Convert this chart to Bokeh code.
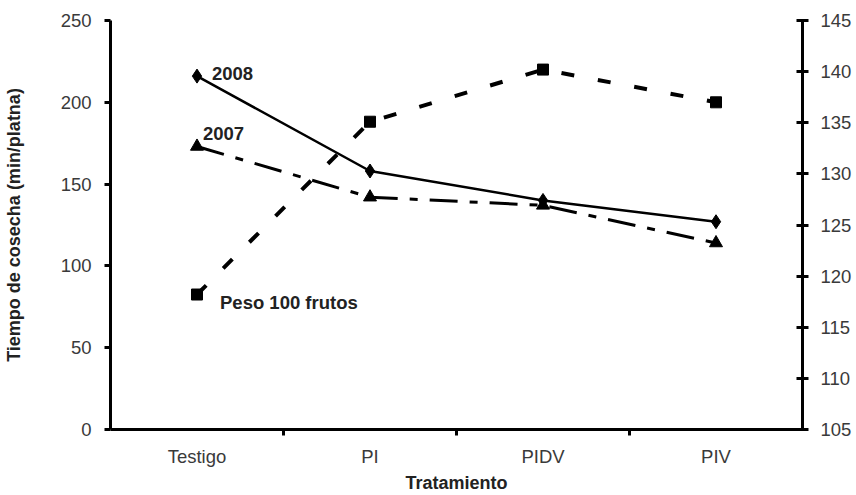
from bokeh.plotting import figure
from bokeh.models import Range1d, LinearAxis, FixedTicker, Label
from bokeh.embed import file_html
from bokeh.resources import INLINE

categories = ["Testigo", "PI", "PIDV", "PIV"]
tiempo_2008 = [216, 158, 140, 127]
tiempo_2007 = [173, 142, 137, 114]
peso_100 = [118.2, 135.1, 140.2, 137.0]
left_ticks = [0, 50, 100, 150, 200, 250]
right_ticks = [105, 110, 115, 120, 125, 130, 135, 140, 145]

x = [i + 0.5 for i in range(len(categories))]
FONT = "Liberation Sans"

p = figure(width=856, height=495, output_backend="svg", toolbar_location=None,
           x_range=Range1d(0, len(categories)), y_range=Range1d(0, 250),
           min_border_left=110, min_border_right=54, min_border_top=20, min_border_bottom=62)
p.outline_line_color = None
p.xgrid.visible = False
p.ygrid.visible = False
p.background_fill_color = "white"
p.border_fill_color = "white"

p.extra_y_ranges = {"right": Range1d(105, 145)}
ax_r = LinearAxis(y_range_name="right", ticker=FixedTicker(ticks=right_ticks))
p.add_layout(ax_r, "right")

for ax in [p.yaxis[0], p.xaxis[0], ax_r]:
    ax.axis_line_width = 3
    ax.axis_line_color = "black"
    ax.major_tick_line_width = 3
    ax.major_tick_line_color = "black"
    ax.minor_tick_line_width = 3
    ax.major_label_text_font = FONT
    ax.major_label_text_font_size = "18.5px"
    ax.major_label_text_color = "#3a3a3a"
    ax.axis_label_text_font = FONT
    ax.axis_label_text_font_style = "bold"
    ax.axis_label_text_font_size = "18px"
    ax.axis_label_text_color = "#222222"

yl = p.yaxis[0]
yl.ticker = FixedTicker(ticks=left_ticks)
yl.major_tick_out = 6
yl.major_tick_in = 0
yl.minor_tick_out = 0
yl.minor_tick_in = 0
yl.major_label_standoff = 13
yl.axis_label = "Tiempo de cosecha (min/platna)"
yl.axis_label_standoff = 34

ax_r.major_tick_out = 6
ax_r.major_tick_in = 6
ax_r.minor_tick_out = 0
ax_r.minor_tick_in = 0
ax_r.major_label_standoff = 12

xa = p.xaxis[0]
xa.ticker = FixedTicker(ticks=x, minor_ticks=[1, 2, 3])
xa.major_label_overrides = {xv: c for xv, c in zip(x, categories)}
xa.major_tick_out = 0
xa.major_tick_in = 0
xa.minor_tick_out = 6
xa.minor_tick_in = 0
xa.major_label_standoff = 10
xa.axis_label = "Tratamiento"
xa.axis_label_standoff = 3

# 2008
p.line(x, tiempo_2008, line_color="black", line_width=2.5)
p.scatter(x, tiempo_2008, marker="diamond", size=14, color="black")
# 2007
p.line(x, tiempo_2007, line_color="black", line_width=3, line_dash="28 12 8 12")
p.scatter(x, tiempo_2007, marker="triangle", size=13, color="black")
# Peso 100 frutos
p.line(x, peso_100, line_color="black", line_width=4, line_dash="13 24", y_range_name="right")
p.scatter(x, peso_100, marker="square", size=11, color="black", y_range_name="right")

for txt, xv, yv, rng, dx, dy in [("2008", x[0], tiempo_2008[0], "default", 15, 3),
                                 ("2007", x[0], tiempo_2007[0], "default", 6, 13),
                                 ("Peso 100 frutos", x[0], peso_100[0], "right", 23, -8)]:
    p.add_layout(Label(x=xv, y=yv, y_range_name=rng, text=txt, x_offset=dx, y_offset=dy,
                       text_font=FONT, text_font_style="bold", text_font_size="18.5px",
                       text_color="#222222", text_baseline="middle"))

open("out.html", "w").write(file_html(p, INLINE))
